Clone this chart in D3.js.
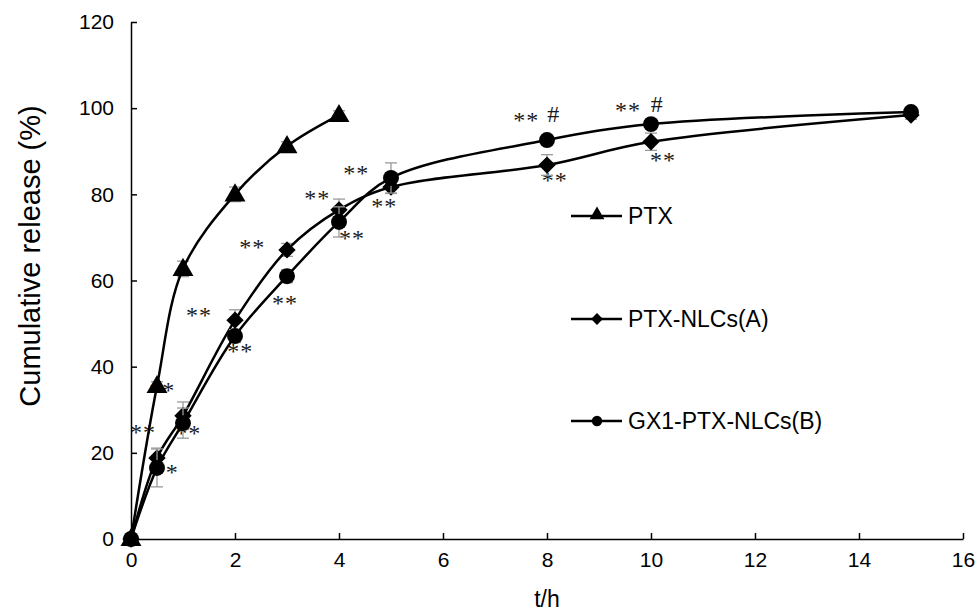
<!DOCTYPE html>
<html>
<head>
<meta charset="utf-8">
<script src="https://cdn.jsdelivr.net/npm/d3@7"></script>
<style>
  body { margin: 0; background: #fff; }
  svg { font-family: "Liberation Sans", Arial, sans-serif; }
</style>
</head>
<body>
<div id="chart"></div>
<script>
// release time points (h)
const timePTX = [0, 0.5, 1, 2, 3, 4];
const timeNLC = [0, 0.5, 1, 2, 3, 4, 5, 8, 10, 15];

// cumulative release (%)
const relPTX = [0, 35.5, 62.7, 80, 91.2, 98.4];
const relA = [0, 18.8, 28.6, 50.8, 67.1, 76.4, 81.7, 86.8, 92.2, 98.4];
const relB = [0, 16.5, 26.9, 47.1, 61, 73.6, 83.8, 92.6, 96.3, 99.1];

// error (sd)
const errPTX = [0, 1, 1.8, 1.7, 1, 1];
const errA = [0, 2.3, 3.2, 2.4, 1.5, 2.5, 1.5, 2.4, 2, 1];
const errB = [0, 4.4, 3.5, 1.5, 1.5, 3.5, 3.5, 1, 1, 0.5];

const seriesNames = ["PTX", "PTX-NLCs(A)", "GX1-PTX-NLCs(B)"];
const xTicks = [0, 2, 4, 6, 8, 10, 12, 14, 16];
const yTicks = [0, 20, 40, 60, 80, 100, 120];

// significance marks: [t, release, label]
const marks = [
  [0.23, 26, "**"], [0.6, 35.7, "**"], [1.1, 25.8, "**"], [0.67, 16.7, "**"],
  [1.31, 53.2, "**"], [2.1, 44.8, "**"], [2.33, 68.9, "**"], [2.96, 55.9, "**"],
  [3.58, 80.3, "**"], [4.25, 71.0, "**"], [4.33, 86.1, "**"], [4.87, 78.5, "**"],
  [7.6, 98.4, "**"], [8.13, 98.6, "#"], [8.15, 84.5, "**"],
  [9.56, 100.7, "**"], [10.12, 100.9, "#"], [10.23, 89.1, "**"]
];

const W = 979, H = 613;
const margin = {top: 22, right: 16, bottom: 74, left: 131};

const svg = d3.select("#chart").append("svg")
  .attr("width", W).attr("height", H);

const x = d3.scaleLinear().domain([0, 16]).range([margin.left, W - margin.right]);
const y = d3.scaleLinear().domain([0, 120]).range([H - margin.bottom, margin.top]);

// axes
const xAxis = d3.axisBottom(x).tickValues(xTicks).tickSizeInner(-6).tickSizeOuter(0).tickPadding(13);
const yAxis = d3.axisLeft(y).tickValues(yTicks).tickSizeInner(-6).tickSizeOuter(0).tickPadding(17);

const gx = svg.append("g").attr("transform", "translate(0," + y(0) + ")").call(xAxis);
const gy = svg.append("g").attr("transform", "translate(" + x(0) + ",0)").call(yAxis);
[gx, gy].forEach(g => {
  g.select(".domain").attr("stroke", "#000").attr("stroke-width", 1.5);
  g.selectAll(".tick line").attr("stroke", "#000").attr("stroke-width", 1.5);
  g.selectAll(".tick text").attr("fill", "#000").style("font-size", "21px")
    .style("font-family", "'Liberation Sans', Arial, sans-serif");
});

svg.append("text")
  .attr("x", x(8)).attr("y", 607)
  .attr("text-anchor", "middle")
  .style("font-size", "23px")
  .text("t/h");

svg.append("text")
  .attr("transform", "translate(30,256) rotate(-90)")
  .attr("text-anchor", "middle")
  .attr("dominant-baseline", "central")
  .style("font-size", "29px")
  .text("Cumulative release (%)");

// significance marks (behind markers)
svg.append("g").selectAll("text").data(marks).enter().append("text")
  .attr("x", d => x(d[0]))
  .attr("y", d => y(d[1]))
  .attr("dy", d => d[2] === "#" ? 8 : 13)
  .attr("text-anchor", "middle")
  .attr("fill", "#1a1a1a")
  .style("font-family", "'Liberation Serif', 'Times New Roman', serif")
  .style("font-size", "24px")
  .style("letter-spacing", "1px")
  .text(d => d[2]);

const series = [
  {name: seriesNames[0], t: timePTX, v: relPTX, e: errPTX, shape: d3.symbolTriangle, size: 190, lsize: 95, rot: 0},
  {name: seriesNames[1], t: timeNLC, v: relA, e: errA, shape: d3.symbolSquare, size: 150, lsize: 70, rot: 45},
  {name: seriesNames[2], t: timeNLC, v: relB, e: errB, shape: d3.symbolCircle, size: 200, lsize: 85, rot: 0}
];

const line = d3.line()
  .x(d => x(d.t)).y(d => y(d.v))
  .curve(d3.curveCatmullRom.alpha(0.5));

series.forEach(s => {
  const pts = s.t.map((t, i) => ({t: t, v: s.v[i], e: s.e[i]}));
  const g = svg.append("g");

  // error bars
  const eb = g.selectAll(".err").data(pts.filter(p => p.e > 0)).enter().append("g")
    .attr("stroke", "#9a9a9a").attr("stroke-width", 1.3);
  eb.append("line")
    .attr("x1", d => x(d.t)).attr("x2", d => x(d.t))
    .attr("y1", d => y(d.v - d.e)).attr("y2", d => y(d.v + d.e));
  eb.append("line")
    .attr("x1", d => x(d.t) - 6).attr("x2", d => x(d.t) + 6)
    .attr("y1", d => y(d.v + d.e)).attr("y2", d => y(d.v + d.e));
  eb.append("line")
    .attr("x1", d => x(d.t) - 6).attr("x2", d => x(d.t) + 6)
    .attr("y1", d => y(d.v - d.e)).attr("y2", d => y(d.v - d.e));

  g.append("path").datum(pts)
    .attr("fill", "none").attr("stroke", "#000").attr("stroke-width", 2.5)
    .attr("d", line);

  g.selectAll(".mk").data(pts).enter().append("path")
    .attr("transform", d => "translate(" + x(d.t) + "," + (y(d.v) + (s.shape === d3.symbolTriangle ? 1 : 0)) + ") rotate(" + s.rot + ")")
    .attr("d", d3.symbol().type(s.shape).size(s.size))
    .attr("fill", "#000");
});

// legend
const legendY = [216, 319, 421];
const leg = svg.append("g");
series.forEach((s, i) => {
  const ly = legendY[i];
  leg.append("line")
    .attr("x1", 571).attr("x2", 622).attr("y1", ly).attr("y2", ly)
    .attr("stroke", "#000").attr("stroke-width", 2.5);
  leg.append("path")
    .attr("transform", "translate(597," + (ly + (i === 0 ? -1 : 0)) + ") rotate(" + s.rot + ")")
    .attr("d", d3.symbol().type(s.shape).size(s.lsize))
    .attr("fill", "#000");
  leg.append("text")
    .attr("x", 628).attr("y", ly)
    .attr("dominant-baseline", "central")
    .style("font-size", "23px")
    .text(s.name);
});
</script>
</body>
</html>
